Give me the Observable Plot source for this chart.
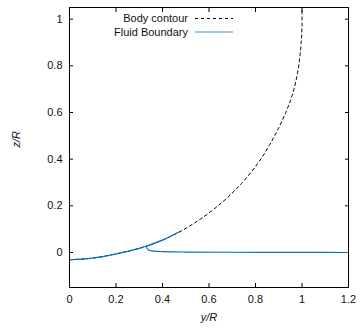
<!DOCTYPE html>
<html>
<head>
<meta charset="utf-8">
<script src="https://cdn.jsdelivr.net/npm/d3@7"></script>
<script src="https://cdn.jsdelivr.net/npm/@observablehq/plot@0.6"></script>
<style>
  html, body { margin: 0; padding: 0; background: white; }
</style>
</head>
<body>
<div id="chart"></div>
<script>
// Body contour (dashed) points
const bodyY = [0, 0.1, 0.2, 0.3, 0.4, 0.48, 0.57, 0.66, 0.74, 0.81, 0.86, 0.9, 0.93, 0.955, 0.975, 0.988, 0.996, 1.0, 1.0];
const bodyZ = [-0.031, -0.024, -0.006, 0.018, 0.053, 0.092, 0.148, 0.218, 0.296, 0.382, 0.460, 0.535, 0.600, 0.665, 0.740, 0.815, 0.895, 0.97, 1.05];

// Fluid boundary: part wetting the body
const wetY = [0, 0.1, 0.2, 0.3, 0.33, 0.4, 0.47];
const wetZ = [-0.031, -0.024, -0.006, 0.018, 0.027, 0.053, 0.088];
// Fluid boundary: free surface
const freeY = [0.33, 0.333, 0.34, 0.355, 0.4, 0.5, 0.7, 1.0, 1.2];
const freeZ = [0.027, 0.018, 0.011, 0.007, 0.004, 0.002, 0.001, 0.0003, 0];

const xTicks = [0, 0.2, 0.4, 0.6, 0.8, 1, 1.2];
const yTicks = [0, 0.2, 0.4, 0.6, 0.8, 1];

const body = bodyY.map((y, i) => ({y, z: bodyZ[i]}));
const fluid = [
  ...wetY.map((y, i) => ({y, z: wetZ[i], seg: "wet"})),
  ...freeY.map((y, i) => ({y, z: freeZ[i], seg: "free"}))
];

const blue = "#0072bd";

const chart = Plot.plot({
  width: 362, height: 333,
  marginLeft: 69, marginRight: 14, marginTop: 7, marginBottom: 46,
  style: {fontFamily: "'Liberation Sans', Arial, sans-serif", fontSize: "11px", color: "#111", background: "white"},
  x: {domain: [0, 1.2]},
  y: {domain: [-0.15, 1.05]},
  marks: [
    Plot.axisX(xTicks, {anchor: "bottom", tickSize: -4, tickPadding: 12, label: null, tickFormat: d => String(d), stroke: "black"}),
    Plot.axisX(xTicks, {anchor: "top", tickSize: -4, tickFormat: () => "", label: null, stroke: "black"}),
    Plot.axisY(yTicks, {anchor: "left", tickSize: -4, tickPadding: 11, label: null, tickFormat: d => String(d), stroke: "black"}),
    Plot.axisY(yTicks, {anchor: "right", tickSize: -4, tickFormat: () => "", label: null, stroke: "black"}),
    Plot.line(body, {x: "y", y: "z", stroke: "black", strokeWidth: 1, strokeDasharray: "3,3", curve: "catmull-rom"}),
    Plot.line(fluid, {x: "y", y: "z", z: "seg", stroke: blue, strokeWidth: 1.2, curve: "catmull-rom"}),
    Plot.frame({stroke: "black", strokeWidth: 1}),
    Plot.text(["y/R"], {frameAnchor: "bottom", dy: 33, text: d => d, fontStyle: "italic", fontSize: 11, fill: "#111"}),
    Plot.text(["z/R"], {frameAnchor: "left", dx: -53, rotate: -90, text: d => d, fontStyle: "italic", fontSize: 11, fill: "#111"})
  ]
});

document.getElementById("chart").appendChild(chart);

// Legend (top, inside plot)
const svg = d3.select(chart);
const legendItems = [
  {label: "Body contour", stroke: "black", dash: "3,3", width: 1},
  {label: "Fluid Boundary", stroke: "#3d92cf", dash: null, width: 1.2}
];
const lg = svg.append("g").attr("font-family", "'Liberation Sans', Arial, sans-serif").attr("font-size", 11);
legendItems.forEach((d, i) => {
  const cy = 18.5 + i * 13.5;
  lg.append("text").attr("x", 188).attr("y", cy).attr("dy", "0.35em").attr("text-anchor", "end").attr("fill", "#111").text(d.label);
  lg.append("line").attr("x1", 195).attr("x2", 233).attr("y1", cy).attr("y2", cy)
    .attr("stroke", d.stroke).attr("stroke-width", d.width).attr("stroke-dasharray", d.dash);
});
</script>
</body>
</html>
